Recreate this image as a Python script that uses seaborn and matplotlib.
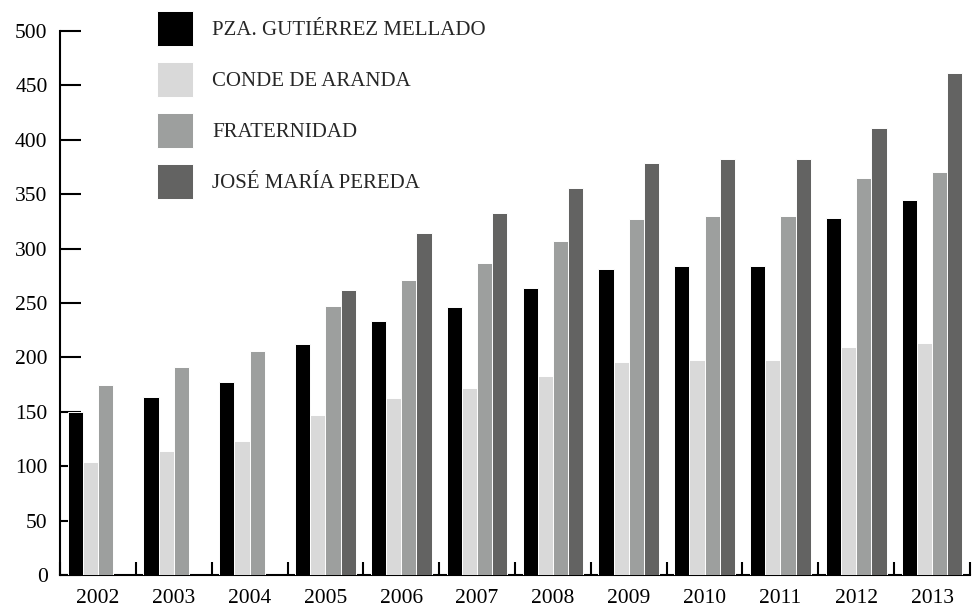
import matplotlib
matplotlib.use("Agg")
import matplotlib.pyplot as plt
import numpy as np
import pandas as pd
import seaborn as sns

# values
years = ["2002", "2003", "2004", "2005", "2006", "2007",
         "2008", "2009", "2010", "2011", "2012", "2013"]
calles = ["PZA. GUTIÉRREZ MELLADO", "CONDE DE ARANDA",
          "FRATERNIDAD", "JOSÉ MARÍA PEREDA"]
gutierrez = [150, 164, 177, 212, 233, 246, 264, 281, 284, 284, 328, 345]
conde = [104, 114, 123, 147, 163, 172, 183, 196, 198, 198, 210, 213]
fraternidad = [175, 191, 206, 247, 271, 287, 307, 327, 330, 330, 365, 370]
pereda = [np.nan, np.nan, np.nan, 262, 314, 333, 356, 379, 382, 382, 411, 461]
colores = ["#000000", "#d9d9d9", "#9d9f9e", "#636362"]

df = pd.DataFrame({
    "year": years * 4,
    "calle": np.repeat(calles, len(years)),
    "value": gutierrez + conde + fraternidad + pereda,
})

sns.set_theme(style="white")
plt.rcParams["font.family"] = ["Liberation Serif", "DejaVu Serif"]

W, H = 977, 610
fig = plt.figure(figsize=(W / 100, H / 100), dpi=100)
ax = fig.add_axes([60 / W, 1 - 575 / H, (970 - 60) / W, (575 - 31) / H])

sns.barplot(data=df, x="year", y="value", hue="calle", hue_order=calles,
            palette=colores, width=0.8, errorbar=None,
            edgecolor="white", linewidth=0.7, ax=ax, zorder=3)

ax.set_xlim(-0.5, len(years) - 0.5)
ax.set_ylim(0, 500)
ax.set_xlabel("")
ax.set_ylabel("")

for s in ["top", "right"]:
    ax.spines[s].set_visible(False)
for s in ["left", "bottom"]:
    ax.spines[s].set_color("black")
    ax.spines[s].set_linewidth(1.5)
    ax.spines[s].set_zorder(1)
ax.spines["left"].set_bounds(0, 500)

ax.set_yticks(range(0, 501, 50))
ax.tick_params(axis="y", left=True, direction="in", length=15, width=1.5,
               pad=9, labelsize=15.5, colors="black")
ax.set_xticks(range(len(years)))
ax.set_xticklabels(years)
ax.set_xticks(np.arange(-0.5, len(years), 1.0), minor=True)
ax.tick_params(axis="x", which="major", bottom=True, length=0, pad=10,
               labelsize=15.5, labelcolor="black")
ax.tick_params(axis="x", which="minor", bottom=True, direction="in",
               length=9.5, width=1.5, color="black")

handles, labels = ax.get_legend_handles_labels()
ax.legend(handles, labels, loc="upper left",
          bbox_to_anchor=(157 / W, 1 - 11 / H), bbox_transform=fig.transFigure,
          frameon=False, fontsize=15, handlelength=1.73, handleheight=2.21,
          handletextpad=0.91, labelspacing=0.77, borderpad=0, borderaxespad=0)

fig.savefig("out.png", dpi=100)
